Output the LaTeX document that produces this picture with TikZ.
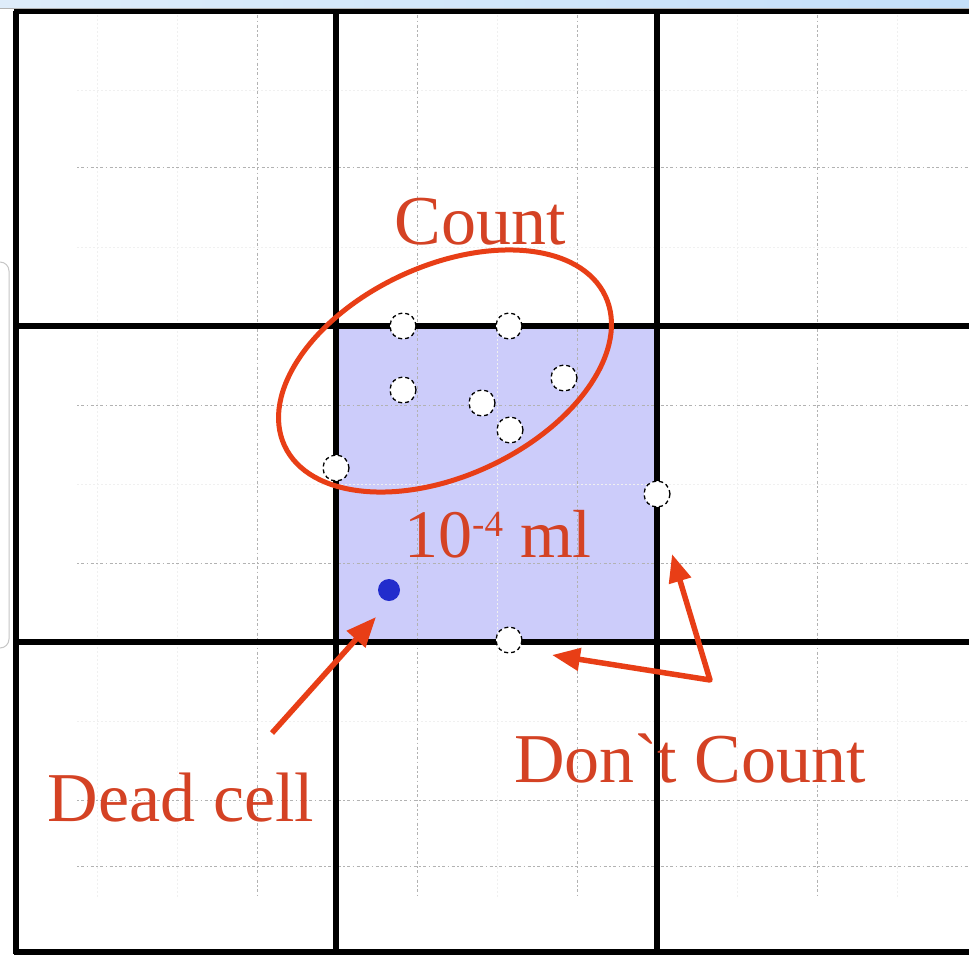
\documentclass[tikz,border=0pt]{standalone}
\usepackage{fontspec}
\setmainfont{Liberation Serif}
\usetikzlibrary{arrows.meta}
\definecolor{lav}{RGB}{204,204,250}
\definecolor{txtred}{RGB}{212,66,36}
\definecolor{linered}{RGB}{232,62,22}
\definecolor{deadblue}{RGB}{34,44,204}
\definecolor{barL}{RGB}{222,236,250}
\definecolor{barR}{RGB}{196,224,250}
\tikzset{
  thickgrid/.style={line width=5.5pt, black},
  dotgrid/.style={line width=1pt, gray!60, dash pattern=on 1.5pt off 2.5pt on 3pt off 2.5pt},
  faintgrid/.style={line width=1pt, gray!12, dash pattern=on 2pt off 2pt},
  cellc/.style={circle, draw=black, fill=white, dashed, dash pattern=on 4pt off 3pt, line width=1.3pt, minimum size=26pt, inner sep=0pt},
  deadc/.style={circle, fill=deadblue, minimum size=22pt, inner sep=0pt},
  redline/.style={draw=linered, line width=5pt},
  redarrow/.style={draw=linered, line width=5.5pt, line join=round},
  lbl/.style={text=txtred, font=\fontsize{70}{80}\selectfont, inner sep=0pt},
}
\begin{document}
\begin{tikzpicture}[x=1pt,y=-1pt]
\useasboundingbox (0,0) rectangle (969,954);
\fill[white] (0,0) rectangle (969,954);
% lavender square
\fill[lav] (336,326) rectangle (657,642);
% faint sub grid
\foreach \x in {97,177,497,737,897} \draw[faintgrid] (\x,11) -- (\x,898);
\foreach \y in {90,247,484,721} \draw[faintgrid] (77,\y) -- (969,\y);
% dotted grid
\foreach \x in {257,417,577,817} \draw[dotgrid] (\x,11) -- (\x,898);
\foreach \y in {167,405,563,800,866} \draw[dotgrid] (77,\y) -- (969,\y);
% thick grid
\draw[thickgrid] (16,11) -- (16,954);
\draw[thickgrid] (336,11) -- (336,954);
\draw[thickgrid] (657,11) -- (657,954);
\draw[thickgrid] (14,11) -- (969,11);
\draw[thickgrid] (14,326) -- (969,326);
\draw[thickgrid] (14,642) -- (969,642);
\draw[thickgrid] (14,952) -- (969,952);
% top bar
\shade[left color=barL, right color=barR] (0,0) rectangle (969,8);
\draw[gray!60, line width=0.8pt] (0,8.5) -- (969,8.5);
% left panel edge
\draw[gray!45, line width=1pt, rounded corners=9pt] (0,262) -- (9,262) -- (9,648) -- (0,648);
% cells
\node[cellc] (c1) at (403,326) {};
\node[cellc] (c2) at (509,326) {};
\node[cellc] (c3) at (403,390) {};
\node[cellc] (c4) at (482,403) {};
\node[cellc] (c5) at (510,430) {};
\node[cellc] (c6) at (564,378) {};
\node[cellc] (c7) at (336,468) {};
\node[cellc] (c8) at (657,494) {};
\node[cellc] (c9) at (509,640) {};
\node[deadc] (dead) at (389,590) {};
% count ellipse
\draw[redline, rotate around={25:(445,371)}] (445,371) ellipse [x radius=177pt, y radius=105pt];
% labels
\node[lbl, anchor=base] (count) at (480,244) {Count};
\node[lbl, anchor=base, font=\fontsize{68}{80}\selectfont] (vol) at (498,557) {10\raisebox{21pt}{\fontsize{37}{40}\selectfont -4} ml};
\node[lbl, anchor=base] (deadlbl) at (181,821) {Dead cell};
\node[lbl, anchor=base] (dontlbl) at (690,782) {Don\textasciigrave t Count};
% arrows
\coordinate (dtail) at (272,733);
\coordinate (dtip) at (376,617);
\draw[redarrow, -{Triangle[length=30pt,width=24pt]}] (dtail) -- (dtip);
\coordinate (ntip1) at (552,655);
\coordinate (ncorner) at (710,680);
\coordinate (ntip2) at (672,554);
\draw[redarrow, {Triangle[length=28pt,width=22pt]}-{Triangle[length=28pt,width=22pt]}] (ntip1) -- (ncorner) -- (ntip2);
\end{tikzpicture}
\end{document}
